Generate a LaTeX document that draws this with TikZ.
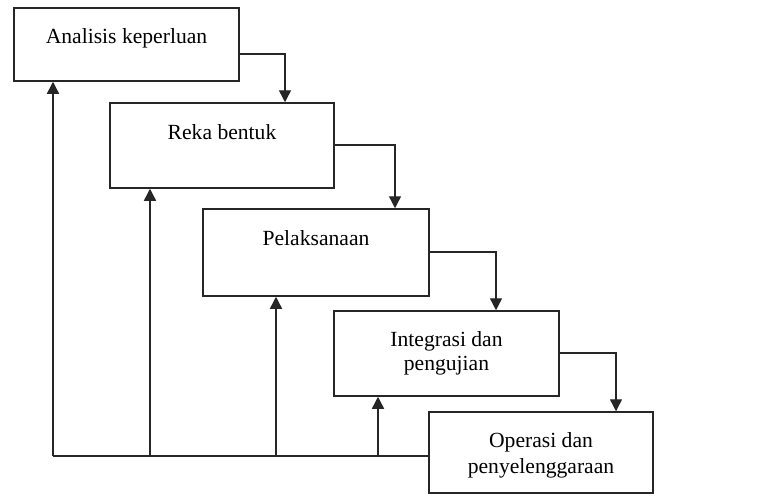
\documentclass[tikz,border=0pt]{standalone}
\usepackage{fontspec}
\setmainfont{Liberation Serif}
\usetikzlibrary{arrows.meta}
\tikzset{
  box/.style={draw=black!85, line width=1.5pt, inner sep=0pt, fill=white},
  lbl/.style={anchor=base, inner sep=0pt, font=\fontsize{21.6}{25}\selectfont},
  conn/.style={draw=black!85, line width=1.4pt},
  arr/.style={conn, -{Triangle[width=12pt,length=12pt]}}
}
\begin{document}
\begin{tikzpicture}[x=1pt,y=-1pt]
\useasboundingbox (0,0) rectangle (778,495);
\clip (0,0) rectangle (778,495);
\fill[white] (0,0) rectangle (778,495);
% boxes
\node[box, minimum width=225pt, minimum height=73pt] (b1) at (126.5,44.5) {};
\node[box, minimum width=224pt, minimum height=85pt] (b2) at (222,145.5) {};
\node[box, minimum width=226pt, minimum height=87pt] (b3) at (316,252.5) {};
\node[box, minimum width=225pt, minimum height=85pt] (b4) at (446.5,353.5) {};
\node[box, minimum width=224pt, minimum height=81pt] (b5) at (541,452.5) {};
% labels
\node[lbl] (t1) at (126.5,44) {Analisis keperluan};
\node[lbl] (t2) at (222,139.5) {Reka bentuk};
\node[lbl] (t3) at (316,245.7) {Pelaksanaan};
\node[lbl] (t4a) at (446.5,346.7) {Integrasi dan};
\node[lbl] (t4b) at (446.5,370.7) {pengujian};
\node[lbl] (t5a) at (541,447.7) {Operasi dan};
\node[lbl] (t5b) at (541,473.3) {penyelenggaraan};
% forward arrows
\draw[arr] (b1.east |- 0,54) -| (b2.north -| 285,0);
\draw[arr] (b2.east |- 0,145) -| (b3.north -| 395,0);
\draw[arr] (b3.east |- 0,252) -| (b4.north -| 496,0);
\draw[arr] (b4.east |- 0,353) -| (b5.north -| 616,0);
% feedback
\coordinate (j1) at (53,456);
\coordinate (j2) at (150,456);
\coordinate (j3) at (276,456);
\coordinate (j4) at (378,456);
\draw[conn] (b5.west |- j1) -- (j1);
\draw[arr] (j1) -- (b1.south -| j1);
\draw[arr] (j2) -- (b2.south -| j2);
\draw[arr] (j3) -- (b3.south -| j3);
\draw[arr] (j4) -- (b4.south -| j4);
\end{tikzpicture}
\end{document}
